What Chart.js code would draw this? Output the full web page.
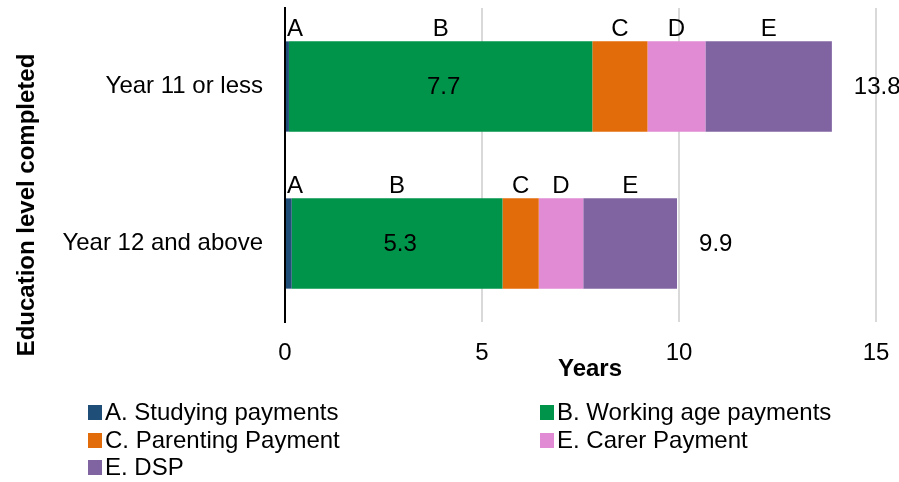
<!DOCTYPE html>
<html>
<head>
<meta charset="utf-8">
<script src="https://cdn.jsdelivr.net/npm/chart.js@4"></script>
<style>
  html, body { margin: 0; padding: 0; background: #fff; }
  #wrap { position: relative; width: 899px; height: 482px; }
</style>
</head>
<body>
<div id="wrap"><canvas id="chart" width="899" height="482"></canvas></div>
<script>
// Datos
const categories = ['Year 11 or less', 'Year 12 and above'];
const seriesNames = ['A. Studying payments', 'B. Working age payments', 'C. Parenting Payment', 'E. Carer Payment', 'E. DSP'];
const segmentLetters = ['A', 'B', 'C', 'D', 'E'];
const studying = [0.1, 0.17];
const workingAge = [7.7, 5.35];
const parenting = [1.4, 0.92];
const carer = [1.47, 1.13];
const dsp = [3.21, 2.38];
const workingAgeLabels = ['7.7', '5.3'];
const totals = ['13.8', '9.9'];
const xTicks = [0, 5, 10, 15];

const colors = ['#1f4e79', '#00934a', '#e36c0a', '#e08bd4', '#8064a2'];
const FONT = "'Liberation Sans', Arial, sans-serif";

const allSeries = [studying, workingAge, parenting, carer, dsp];

// Etiquetas de segmentos, totales, títulos y leyenda
const annotations = {
    id: 'annotations',
    afterDatasetsDraw(chart) {
        const ctx = chart.ctx;
        ctx.save();
        ctx.fillStyle = '#000';
        ctx.font = '24px ' + FONT;
        ctx.textBaseline = 'middle';
        categories.forEach((cat, i) => {
            let lastBar = null;
            chart.data.datasets.forEach((ds, d) => {
                const bar = chart.getDatasetMeta(d).data[i];
                const left = Math.min(bar.x, bar.base);
                const right = Math.max(bar.x, bar.base);
                const top = bar.y - bar.height / 2;
                if (d === 0) {
                    ctx.textAlign = 'left';
                    ctx.fillText(segmentLetters[d], left + 1, top - 12);
                } else {
                    ctx.textAlign = 'center';
                    ctx.fillText(segmentLetters[d], (left + right) / 2, top - 12);
                }
                if (d === 1) {
                    ctx.textAlign = 'center';
                    ctx.fillText(workingAgeLabels[i], (left + right) / 2 + 3, bar.y + 1);
                }
                lastBar = bar;
            });
            ctx.textAlign = 'left';
            ctx.fillText(totals[i], lastBar.x + 22, lastBar.y + 1);
        });

        // Título del eje X
        ctx.font = 'bold 24px ' + FONT;
        ctx.textAlign = 'center';
        ctx.fillText('Years', 590, 369);

        // Título del eje Y
        ctx.save();
        ctx.translate(27, 205);
        ctx.rotate(-Math.PI / 2);
        ctx.fillText('Education level completed', 0, 0);
        ctx.restore();

        // Leyenda en dos columnas
        ctx.font = '24px ' + FONT;
        ctx.textAlign = 'left';
        const cols = [88, 540];
        const rows = [412, 440, 467];
        seriesNames.forEach((name, k) => {
            const x = cols[k % 2];
            const y = rows[Math.floor(k / 2)];
            ctx.fillStyle = colors[k];
            ctx.fillRect(x, y - 7, 14, 15);
            ctx.fillStyle = '#000';
            ctx.fillText(name, x + 17, y + 1);
        });
        ctx.restore();
    }
};

const ctx = document.getElementById('chart').getContext('2d');
const chart = new Chart(ctx, {
    type: 'bar',
    data: {
        labels: categories,
        datasets: allSeries.map((values, k) => ({
            label: seriesNames[k],
            data: values,
            backgroundColor: colors[k],
            borderWidth: 0,
            barPercentage: 0.575,
            categoryPercentage: 1
        }))
    },
    options: {
        indexAxis: 'y',
        responsive: false,
        animation: false,
        layout: { padding: { left: 0, right: 23, top: 8, bottom: 98 } },
        scales: {
            x: {
                stacked: true,
                min: 0,
                max: 15,
                afterBuildTicks: (scale) => { scale.ticks = xTicks.map(v => ({ value: v })); },
                afterFit: (scale) => {
                    scale.height = 62;
                    scale.paddingLeft = 0;
                    scale.paddingRight = 0;
                },
                grid: { color: '#d9d9d9', lineWidth: 2, drawTicks: false },
                border: { display: false },
                ticks: {
                    padding: 17,
                    color: '#000',
                    font: { size: 24, family: FONT }
                }
            },
            y: {
                stacked: true,
                afterFit: (scale) => {
                    scale.width = 285;
                    scale.paddingTop = 0;
                    scale.paddingBottom = 0;
                },
                grid: { display: false, drawTicks: false },
                border: { display: true, color: '#000', width: 2 },
                ticks: {
                    padding: 22,
                    color: '#000',
                    font: { size: 24, family: FONT }
                }
            }
        },
        plugins: {
            legend: { display: false },
            tooltip: { enabled: false }
        }
    },
    plugins: [annotations]
});
</script>
</body>
</html>
